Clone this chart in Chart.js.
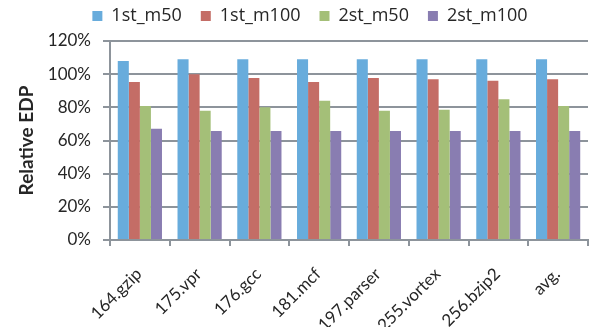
<!DOCTYPE html>
<html>
<head>
<meta charset="utf-8">
<script src="https://cdn.jsdelivr.net/npm/chart.js@4/dist/chart.umd.min.js"></script>
<style>
  html, body { margin: 0; padding: 0; background: #fff; }
  #wrap { width: 598px; height: 327px; }
</style>
</head>
<body>
<div id="wrap"><canvas id="c" width="598" height="327"></canvas></div>
<script>
// Benchmarks on the x axis
const categories = ['164.gzip', '175.vpr', '176.gcc', '181.mcf', '197.parser', '255.vortex', '256.bzip2', 'avg.'];

// Relative EDP (%) per configuration
const first_m50  = [108, 109, 109, 109, 109, 109, 109, 109];
const first_m100 = [95.3, 100, 97.7, 95.3, 97.7, 96.9, 96.1, 96.9];
const second_m50 = [80.8, 78, 80, 84, 78, 78.6, 84.8, 80.8];
const second_m100 = [67.1, 65.7, 65.7, 65.7, 65.7, 65.7, 65.7, 65.7];

const seriesNames = ['1st_m50', '1st_m100', '2st_m50', '2st_m100'];
const yTicks = [0, 20, 40, 60, 80, 100, 120];

const colors = ['#68acdc', '#c46d66', '#a4bf78', '#897db1'];
const gridColor = '#8d949b';
const textColor = '#262626';
const FONT = 'Lato, "Open Sans", sans-serif';
const LEGEND_FONT = '"Open Sans", sans-serif';

// Keep the legend a compact strip at the top and nudge it into place
const legendPlacement = {
  id: 'legendPlacement',
  beforeLayout(chart) {
    const lg = chart.legend;
    if (lg && !lg._patched) {
      const fit = lg.fit;
      lg.fit = function () { fit.call(this); this.height = 41; };
      lg._patched = true;
    }
  },
  afterLayout(chart) {
    const lg = chart.legend;
    const dx = 16, dy = -12;
    lg.left += dx; lg.right += dx;
    lg.top += dy; lg.bottom += dy;
  }
};

new Chart(document.getElementById('c'), {
  type: 'bar',
  data: {
    labels: categories,
    datasets: [first_m50, first_m100, second_m50, second_m100].map((d, i) => ({
      label: seriesNames[i],
      data: d,
      backgroundColor: colors[i],
      borderWidth: 0,
      barPercentage: 1.0,
      categoryPercentage: 0.74
    }))
  },
  options: {
    responsive: false,
    animation: false,
    devicePixelRatio: 1,
    layout: { padding: { left: 0, right: 10, top: 0, bottom: 0 } },
    plugins: {
      legend: {
        position: 'top',
        labels: {
          boxWidth: 10,
          boxHeight: 10,
          padding: 19,
          color: textColor,
          font: { family: LEGEND_FONT, size: 18 }
        }
      },
      tooltip: { enabled: false }
    },
    scales: {
      x: {
        offset: true,
        grid: {
          offset: true,
          drawOnChartArea: false,
          drawTicks: true,
          tickLength: 6,
          color: gridColor,
          lineWidth: 2
        },
        border: { display: true, color: gridColor, width: 2 },
        ticks: {
          autoSkip: false,
          minRotation: 45,
          maxRotation: 45,
          padding: 18,
          labelOffset: -1,
          color: textColor,
          font: { family: FONT, size: 17 }
        },
        afterFit(scale) { scale.height = 87; }
      },
      y: {
        min: 0,
        max: 120,
        afterBuildTicks(scale) { scale.ticks = yTicks.map(v => ({ value: v })); },
        grid: {
          color: gridColor,
          lineWidth: 2,
          drawTicks: true,
          tickLength: 7
        },
        border: { display: true, color: gridColor, width: 2 },
        ticks: {
          padding: 12,
          color: textColor,
          font: { family: FONT, size: 17 },
          callback: v => v + '%'
        },
        title: {
          display: true,
          text: 'Relative EDP',
          color: textColor,
          font: { family: FONT, size: 19, weight: 'bold' },
          padding: { top: 15, bottom: 0 }
        },
        afterFit(scale) { scale.width = 110; }
      }
    }
  },
  plugins: [legendPlacement]
});
</script>
</body>
</html>
